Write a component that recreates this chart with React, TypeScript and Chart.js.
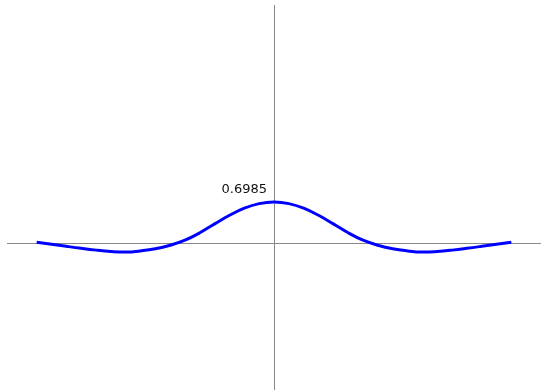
import React, { useEffect, useRef } from 'react';
import { Chart, registerables } from 'chart.js';

Chart.register(...registerables);

// Curve samples (x in axis units, y values)
const xValues = [-4, -3.75, -3.5, -3.25, -3, -2.75, -2.5, -2.25, -2, -1.75, -1.5, -1.25, -1, -0.75, -0.5, -0.25, 0,
  0.25, 0.5, 0.75, 1, 1.25, 1.5, 1.75, 2, 2.25, 2.5, 2.75, 3, 3.25, 3.5, 3.75, 4];
const yValues = [0.022, -0.012, -0.048, -0.082, -0.112, -0.135, -0.145, -0.125, -0.09, -0.03, 0.055, 0.18, 0.33, 0.475, 0.595, 0.672, 0.6985,
  0.672, 0.595, 0.475, 0.33, 0.18, 0.055, -0.03, -0.09, -0.125, -0.145, -0.135, -0.112, -0.082, -0.048, -0.012, 0.022];

const peakX = 0;
const peakValue = 0.6985;
const peakLabel = '0.6985';

const xMin = -4.5;
const xMax = 4.5;
const yMin = -2.47;
const yMax = 4.02;

const axesPlugin = {
  id: 'centerAxes',
  beforeDatasetsDraw(chart: any) {
    const { ctx, chartArea, scales } = chart;
    const x0 = Math.round(scales.x.getPixelForValue(0)) + 0.5;
    const y0 = Math.round(scales.y.getPixelForValue(0)) + 0.5;
    ctx.save();
    ctx.strokeStyle = '#888888';
    ctx.lineWidth = 1;
    ctx.beginPath();
    ctx.moveTo(chartArea.left, y0);
    ctx.lineTo(chartArea.right, y0);
    ctx.moveTo(x0, chartArea.top);
    ctx.lineTo(x0, chartArea.bottom);
    ctx.stroke();
    ctx.restore();
  },
  afterDatasetsDraw(chart: any) {
    const { ctx, scales } = chart;
    const px = scales.x.getPixelForValue(peakX);
    const py = scales.y.getPixelForValue(peakValue);
    ctx.save();
    ctx.fillStyle = '#111111';
    ctx.font = '13px "DejaVu Sans"';
    ctx.textAlign = 'right';
    ctx.textBaseline = 'alphabetic';
    ctx.fillText(peakLabel, px - 7, py - 9);
    ctx.restore();
  },
};

export default function App() {
  const ref = useRef<HTMLCanvasElement | null>(null);

  useEffect(() => {
    document.body.style.margin = '0';
    if (!ref.current) return;
    const points = xValues.map((x, i) => ({ x, y: yValues[i] }));
    const chart = new Chart(ref.current, {
      type: 'line',
      data: {
        datasets: [
          {
            data: points,
            borderColor: '#0000ff',
            borderWidth: 3,
            pointRadius: 0,
            fill: false,
            tension: 0.4,
          },
        ],
      },
      options: {
        responsive: false,
        animation: false,
        layout: { padding: { left: 7, top: 5, right: 0, bottom: 0 } },
        plugins: {
          legend: { display: false },
          tooltip: { enabled: false },
          title: { display: false },
        },
        scales: {
          x: { type: 'linear', min: xMin, max: xMax, display: false },
          y: { type: 'linear', min: yMin, max: yMax, display: false },
        },
      },
      plugins: [axesPlugin],
    });
    return () => chart.destroy();
  }, []);

  return (
    <div style={{ width: 541, height: 390 }}>
      <canvas ref={ref} width={541} height={390} style={{ display: 'block' }} />
    </div>
  );
}
